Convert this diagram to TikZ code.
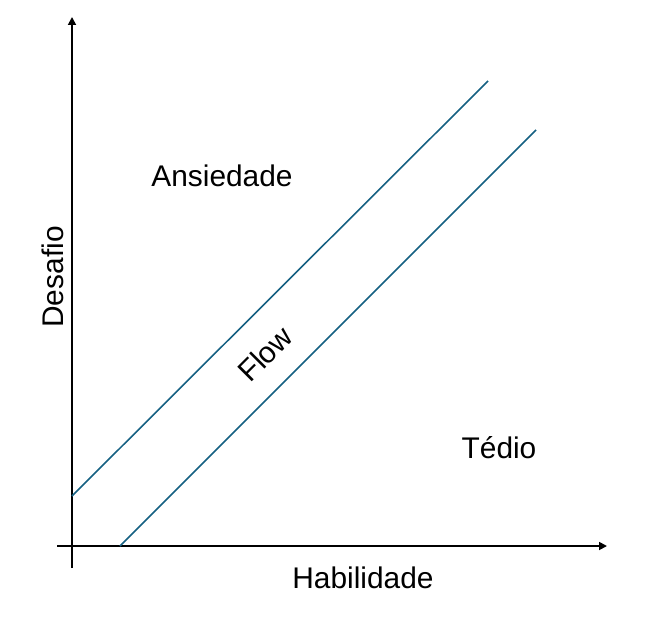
\documentclass[tikz,border=0pt]{standalone}
\usepackage{fontspec}
\setmainfont{Liberation Sans}
\usetikzlibrary{arrows.meta}
\definecolor{flowline}{RGB}{21,96,130}

\begin{document}
\begin{tikzpicture}[x=0.02cm, y=-0.02cm, >={Triangle[length=4.5pt,width=4.5pt]},
        axis/.style={line width=1pt},
        band/.style={flowline, line width=0.9pt},
        lbl/.style={font=\fontsize{17}{20}\selectfont, inner sep=0pt}]
        \useasboundingbox (0, 0) rectangle (658, 631);
        % axes
        \coordinate (y_0) at (72, 568);
        \coordinate (y_1) at (72, 17);
        \coordinate (x_0) at (57, 546);
        \coordinate (x_1) at (607, 546);
        \draw[axis, ->] (y_0) -- (y_1);
        \draw[axis, ->] (x_0) -- (x_1);

        % flow channel
        \coordinate (up_0) at (72, 496);
        \coordinate (up_1) at (488, 81);
        \coordinate (lo_0) at (120, 546);
        \coordinate (lo_1) at (536, 130);
        \draw[band] (up_0) -- (up_1);
        \draw[band] (lo_0) -- (lo_1);

        \node[lbl] at (222, 176) (ansiedade) {Ansiedade};
        \node[lbl] at (499, 448) (tedio) {Tédio};
        \node[lbl, rotate=45] at (265, 354) (flow) {Flow};
        \node[lbl] at (363, 578) (habilidade) {Habilidade};
        \node[lbl, rotate=90] at (53, 277) (desafio) {Desafio};
\end{tikzpicture}
\end{document}
